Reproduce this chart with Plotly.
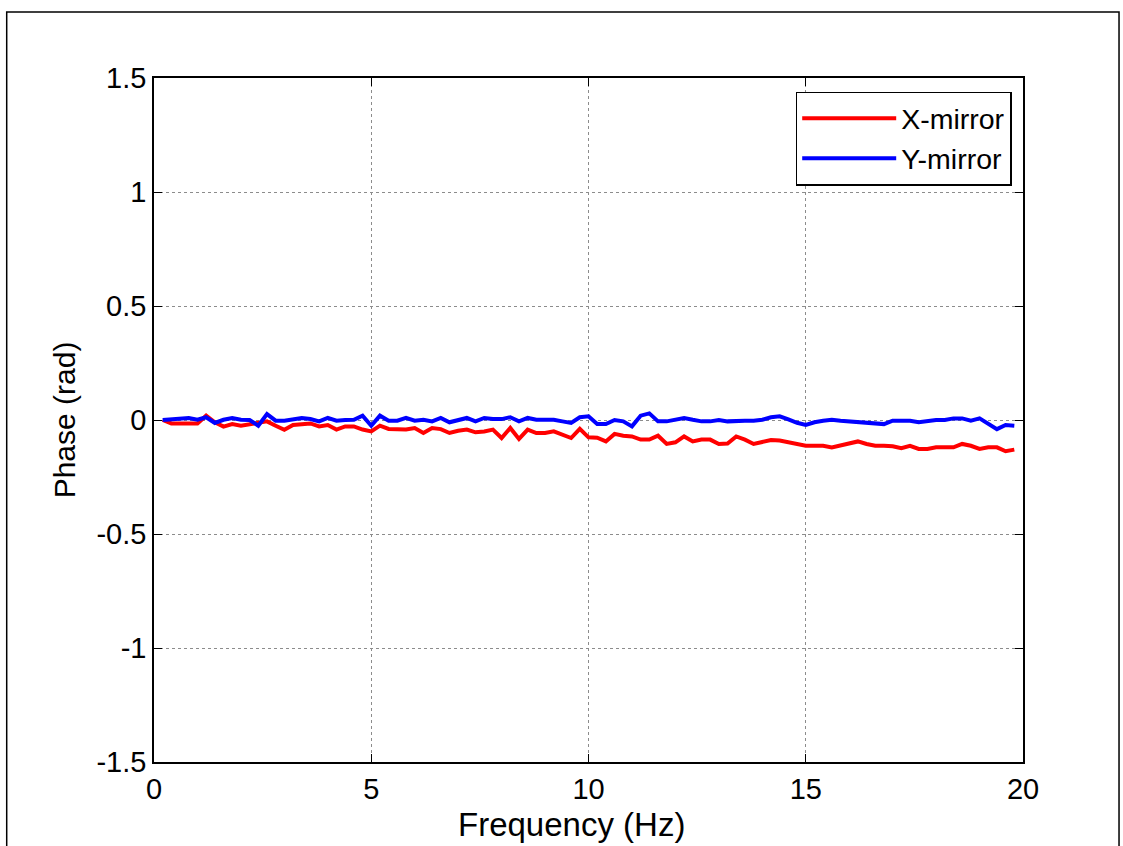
import plotly.graph_objects as go

freq = [round(0.2 * i, 1) for i in range(1, 100)]

x_mirror = [
    0.0, -0.015, -0.015, -0.015, -0.015, 0.019, -0.010, -0.029, -0.018, -0.025,
    -0.018, -0.013, -0.006, -0.025, -0.043, -0.022, -0.018, -0.015, -0.028, -0.022,
    -0.042, -0.028, -0.028, -0.042, -0.050, -0.025, -0.039, -0.042, -0.042, -0.035,
    -0.057, -0.035, -0.040, -0.057, -0.047, -0.042, -0.054, -0.050, -0.042, -0.079,
    -0.035, -0.083, -0.042, -0.057, -0.057, -0.050, -0.064, -0.079, -0.039, -0.076,
    -0.078, -0.094, -0.061, -0.069, -0.072, -0.086, -0.086, -0.069, -0.105, -0.098,
    -0.072, -0.094, -0.086, -0.086, -0.105, -0.103, -0.072, -0.086, -0.105, -0.097,
    -0.088, -0.090, -0.098, -0.108, -0.113, -0.113, -0.113, -0.120, -0.110, -0.102,
    -0.094, -0.105, -0.113, -0.113, -0.115, -0.124, -0.113, -0.127, -0.127, -0.120,
    -0.120, -0.120, -0.105, -0.113, -0.127, -0.120, -0.120, -0.137, -0.130,
]

y_mirror = [
    0.0, 0.004, 0.009, 0.009, 0.001, 0.012, -0.013, 0.001, 0.009, 0.001,
    0.0, -0.025, 0.026, -0.003, -0.003, 0.004, 0.009, 0.004, -0.006, 0.009,
    -0.003, 0.0, 0.001, 0.019, -0.025, 0.019, -0.003, -0.003, 0.009, -0.003,
    0.001, -0.006, 0.009, -0.010, 0.001, 0.009, -0.006, 0.009, 0.004, 0.004,
    0.012, -0.006, 0.009, 0.001, 0.001, 0.001, -0.006, -0.013, 0.012, 0.016,
    -0.018, -0.018, 0.0, -0.006, -0.028, 0.019, 0.029, -0.006, -0.006, 0.0,
    0.009, 0.001, -0.006, -0.006, 0.0, -0.006, -0.003, -0.003, -0.003, 0.001,
    0.012, 0.016, 0.003, -0.012, -0.022, -0.010, -0.003, 0.001, -0.003, -0.006,
    -0.013, -0.013, -0.018, -0.018, -0.003, -0.003, -0.003, -0.010, -0.003, 0.0,
    0.0, 0.007, 0.007, -0.003, 0.007, -0.018, -0.040, -0.022, -0.025,
]

x_ticks = [0, 5, 10, 15, 20]
x_tick_labels = ["0", "5", "10", "15", "20"]
y_ticks = [-1.5, -1, -0.5, 0, 0.5, 1, 1.5]
y_tick_labels = ["-1.5", "-1", "-0.5", "0", "0.5", "1", "1.5"]

FONT = "Liberation Sans, Arial, sans-serif"

fig = go.Figure()
fig.add_trace(go.Scatter(x=freq, y=x_mirror, mode="lines", name="X-mirror",
                         line=dict(color="#ff0000", width=4)))
fig.add_trace(go.Scatter(x=freq, y=y_mirror, mode="lines", name="Y-mirror",
                         line=dict(color="#0000ff", width=4)))

axis_common = dict(
    showline=True, linecolor="black", linewidth=1.5, mirror="allticks",
    ticks="inside", ticklen=8, tickcolor="black", tickwidth=1,
    showgrid=True, gridcolor="#8c8c8c", gridwidth=1, griddash="dot",
    zeroline=False, tickfont=dict(family=FONT, size=29, color="black"),
)

fig.update_xaxes(range=[0, 20], tickvals=x_ticks, ticktext=x_tick_labels, **axis_common)
fig.update_yaxes(range=[-1.5, 1.5], tickvals=y_ticks, ticktext=y_tick_labels,
                 title=dict(text="Phase (rad)", font=dict(family=FONT, size=30, color="black"),
                            standoff=12),
                 **axis_common)

# x-axis label placed as in the reference (slightly left of centre)
fig.add_annotation(text="Frequency (Hz)", xref="paper", yref="paper",
                   x=0.480, y=-0.092, xanchor="center", yanchor="middle",
                   showarrow=False, font=dict(family=FONT, size=33, color="black"))

# outer figure frame
fig.add_shape(type="rect", xref="paper", yref="paper",
              x0=-0.1695, x1=1.1105, y0=-0.2, y1=1.0965,
              line=dict(color="black", width=1.5), fillcolor="rgba(0,0,0,0)", layer="below")

fig.update_layout(
    width=1123, height=846,
    margin=dict(l=153.5, r=99.5, t=78, b=84),
    paper_bgcolor="white", plot_bgcolor="white",
    font=dict(family=FONT, color="black"),
    showlegend=True,
    legend=dict(x=0.987, y=0.98, xanchor="right", yanchor="top",
                bgcolor="white", bordercolor="black", borderwidth=1.5,
                font=dict(family=FONT, size=28.5, color="black"),
                itemwidth=94, tracegroupgap=0),
)

fig.write_html("out.html")
